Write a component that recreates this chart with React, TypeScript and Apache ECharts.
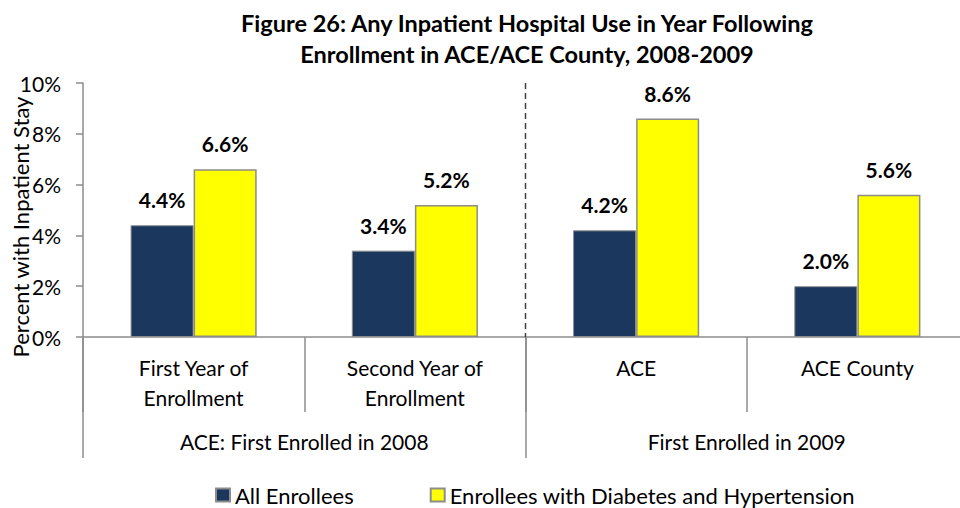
import React, { useEffect, useRef } from "react";
import * as echarts from "echarts";

const categories = ["First Year of\nEnrollment", "Second Year of\nEnrollment", "ACE", "ACE County"];
const groups = ["ACE: First Enrolled in 2008", "First Enrolled in 2009"];
const allEnrollees = [4.4, 3.4, 4.2, 2.0];
const diabetesHypertension = [6.6, 5.2, 8.6, 5.6];
const seriesNames = ["All Enrollees", "Enrollees with Diabetes and Hypertension"];

const FONT = "Lato, 'Open Sans', sans-serif";
const FS = 21;

export default function App() {
  const ref = useRef<HTMLDivElement>(null);
  useEffect(() => {
    if (!ref.current) return;
    const chart = echarts.init(ref.current, undefined, { renderer: "svg" });
    const axisGray = "#8c8c8c";
    const labelOpt = {
      show: true,
      position: "top",
      distance: 15,
      fontFamily: FONT,
      fontSize: FS,
      fontWeight: "bold",
      color: "#000",
      formatter: (p: any) => Number(p.value).toFixed(1) + "%",
    };
    chart.setOption({
      animation: false,
      textStyle: { fontFamily: FONT },
      title: {
        text: "Figure 26: Any Inpatient Hospital Use in Year Following\nEnrollment in ACE/ACE County, 2008-2009",
        left: 522,
        top: 2,
        textAlign: "center",
        textStyle: { fontFamily: FONT, fontSize: 23.5, fontWeight: "bold", color: "#000", lineHeight: 31 },
      },
      legend: {
        data: seriesNames,
        left: 215,
        top: 484,
        itemWidth: 14,
        itemHeight: 13,
        itemGap: 76,
        icon: "rect",
        padding: 0,
        textStyle: { fontFamily: FONT, fontSize: 22, color: "#000" },
      },
      grid: { left: 83, right: -8, top: 83, bottom: 171, containLabel: false, outerBoundsMode: "none" },
      xAxis: [
        {
          type: "category",
          data: categories,
          position: "bottom",
          axisLine: { show: true, lineStyle: { color: axisGray, width: 1.5 } },
          axisTick: { show: true, alignWithLabel: false, length: 75, lineStyle: { color: axisGray, width: 1.5 } },
          axisLabel: { fontFamily: FONT, fontSize: FS, color: "#000", margin: 15, lineHeight: 30, interval: 0 },
        },
        {
          type: "category",
          data: groups,
          position: "bottom",
          axisLine: { show: false },
          axisTick: { show: true, alignWithLabel: false, length: 121, lineStyle: { color: axisGray, width: 1.5 } },
          axisLabel: { fontFamily: FONT, fontSize: FS, color: "#000", margin: 94, interval: 0 },
        },
      ],
      yAxis: {
        type: "value",
        min: 0,
        max: 10,
        interval: 2,
        name: "Percent with Inpatient Stay",
        nameLocation: "middle",
        nameGap: 52,
        nameMoveOverlap: false,
        nameTextStyle: { fontFamily: FONT, fontSize: 22, color: "#000", padding: [0, 34, 0, 0] },
        axisLine: { show: true, lineStyle: { color: axisGray, width: 1.5 } },
        axisTick: { show: true, length: 7, lineStyle: { color: axisGray, width: 1.5 } },
        splitLine: { show: false },
        axisLabel: { fontFamily: FONT, fontSize: FS, color: "#000", margin: 22, formatter: "{value}%" },
      },
      series: [
        {
          name: seriesNames[0],
          type: "bar",
          data: allEnrollees,
          barWidth: "28.5%",
          barGap: "0%",
          itemStyle: { color: "#1c375e", borderColor: "#8c8c8c", borderWidth: 1 },
          label: labelOpt,
        },
        {
          name: seriesNames[1],
          type: "bar",
          data: diabetesHypertension,
          barWidth: "28.5%",
          barGap: "0%",
          itemStyle: { color: "#ffff00", borderColor: "#8c8c8c", borderWidth: 1.5 },
          label: labelOpt,
        },
      ],
    });
    const a = chart.convertToPixel({ xAxisIndex: 0 }, categories[1]) as number;
    const b = chart.convertToPixel({ xAxisIndex: 0 }, categories[2]) as number;
    const yTop = chart.convertToPixel({ yAxisIndex: 0 }, 10) as number;
    const yBot = chart.convertToPixel({ yAxisIndex: 0 }, 0) as number;
    const xMid = (a + b) / 2;
    chart.setOption({
      graphic: [
        {
          type: "line",
          shape: { x1: xMid, y1: yTop, x2: xMid, y2: yBot },
          style: { stroke: "#404040", lineWidth: 1.5, lineDash: [6, 4] },
          z: 10,
        },
      ],
    });
    return () => chart.dispose();
  }, []);
  return <div ref={ref} style={{ width: 960, height: 508, position: "absolute", left: 0, top: 0 }} />;
}
